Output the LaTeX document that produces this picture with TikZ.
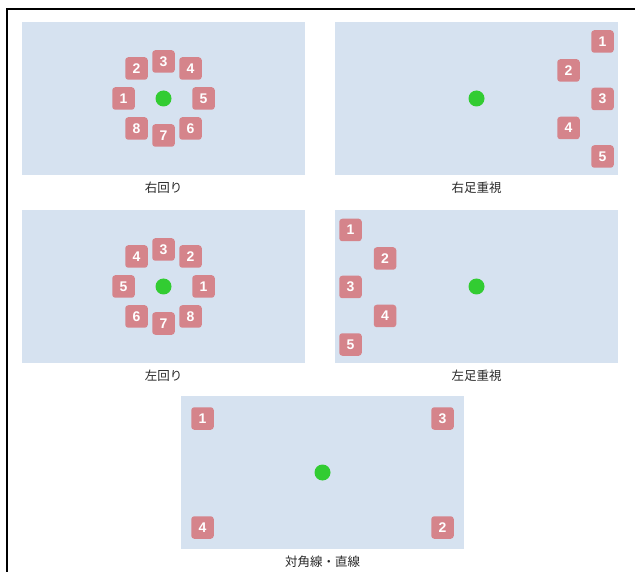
\documentclass[tikz,border=0pt]{standalone}
\usepackage{fontspec}
\setmainfont{Liberation Sans}
\newfontfamily\jpfont{Noto Sans CJK JP}
\usetikzlibrary{positioning}

\definecolor{paneblue}{RGB}{214,226,240}
\definecolor{sqred}{RGB}{213,132,139}
\definecolor{dotgreen}{RGB}{50,204,50}
\definecolor{captext}{RGB}{40,40,40}

\tikzset{
  pane/.style={fill=paneblue, minimum width=283pt, minimum height=153pt, inner sep=0pt},
  sq/.style={fill=sqred, rounded corners=3pt, minimum size=22.5pt, inner sep=0pt,
    text=white, font=\fontsize{14}{14}\selectfont\bfseries},
  dot/.style={circle, fill=dotgreen, minimum size=16pt, inner sep=0pt},
  captxt/.style={text=captext, font=\jpfont\fontsize{12.5}{13}\selectfont, inner sep=1pt}
}

\begin{document}
\begin{tikzpicture}[x=1pt,y=-1pt]
\useasboundingbox (0,0) rectangle (635,572);
\draw[line width=2pt] (7,572) -- (7,9) -- (635,9);

% panels
\node[pane] (p1) at (163.5,98.5) {};
\node[pane] (p2) at (476.5,98.5) {};
\node[pane] (p3) at (163.5,286.5) {};
\node[pane] (p4) at (476.5,286.5) {};
\node[pane] (p5) at (322.5,472.5) {};

\node[captxt, below=5.5pt of p1] (t1) {右回り};
\node[captxt, below=5.5pt of p2] (t2) {右足重視};
\node[captxt, below=5.5pt of p3] (t3) {左回り};
\node[captxt, below=5.5pt of p4] (t4) {左足重視};
\node[captxt, below=5.5pt of p5] (t5) {対角線・直線};

% ball
\node[dot] (c1) at (p1) {};
\node[dot] (c2) at (p2) {};
\node[dot] (c3) at (p3) {};
\node[dot] (c4) at (p4) {};
\node[dot] (c5) at (p5) {};

% right turn
\foreach \n/\dx/\dy in {1/-40/0,2/-27/-30,3/0/-37,4/27/-30,5/40/0,6/27/30,7/0/37,8/-27/30}
  \node[sq] (a\n) at ([shift={(\dx,\dy)}]c1) {\n};

% left turn
\foreach \n/\dx/\dy in {1/40/0,2/27/-30,3/0/-37,4/-27/-30,5/-40/0,6/-27/30,7/0/37,8/27/30}
  \node[sq] (b\n) at ([shift={(\dx,\dy)}]c3) {\n};

% right foot
\foreach \n/\x/\y in {1/602.5/41.5,2/568.5/70.5,3/602.5/99,4/568.5/128,5/602.5/156.5}
  \node[sq] (r\n) at (\x,\y) {\n};

% left foot
\foreach \n/\x/\y in {1/350.5/230,2/385/258.5,3/350.5/287,4/385/316,5/350.5/344.5}
  \node[sq] (l\n) at (\x,\y) {\n};

% diagonal
\node[sq] (d1) at (202.5,418.5) {1};
\node[sq] (d2) at (442.5,527.5) {2};
\node[sq] (d3) at (442.5,418.5) {3};
\node[sq] (d4) at (202.5,527.5) {4};
\end{tikzpicture}
\end{document}
